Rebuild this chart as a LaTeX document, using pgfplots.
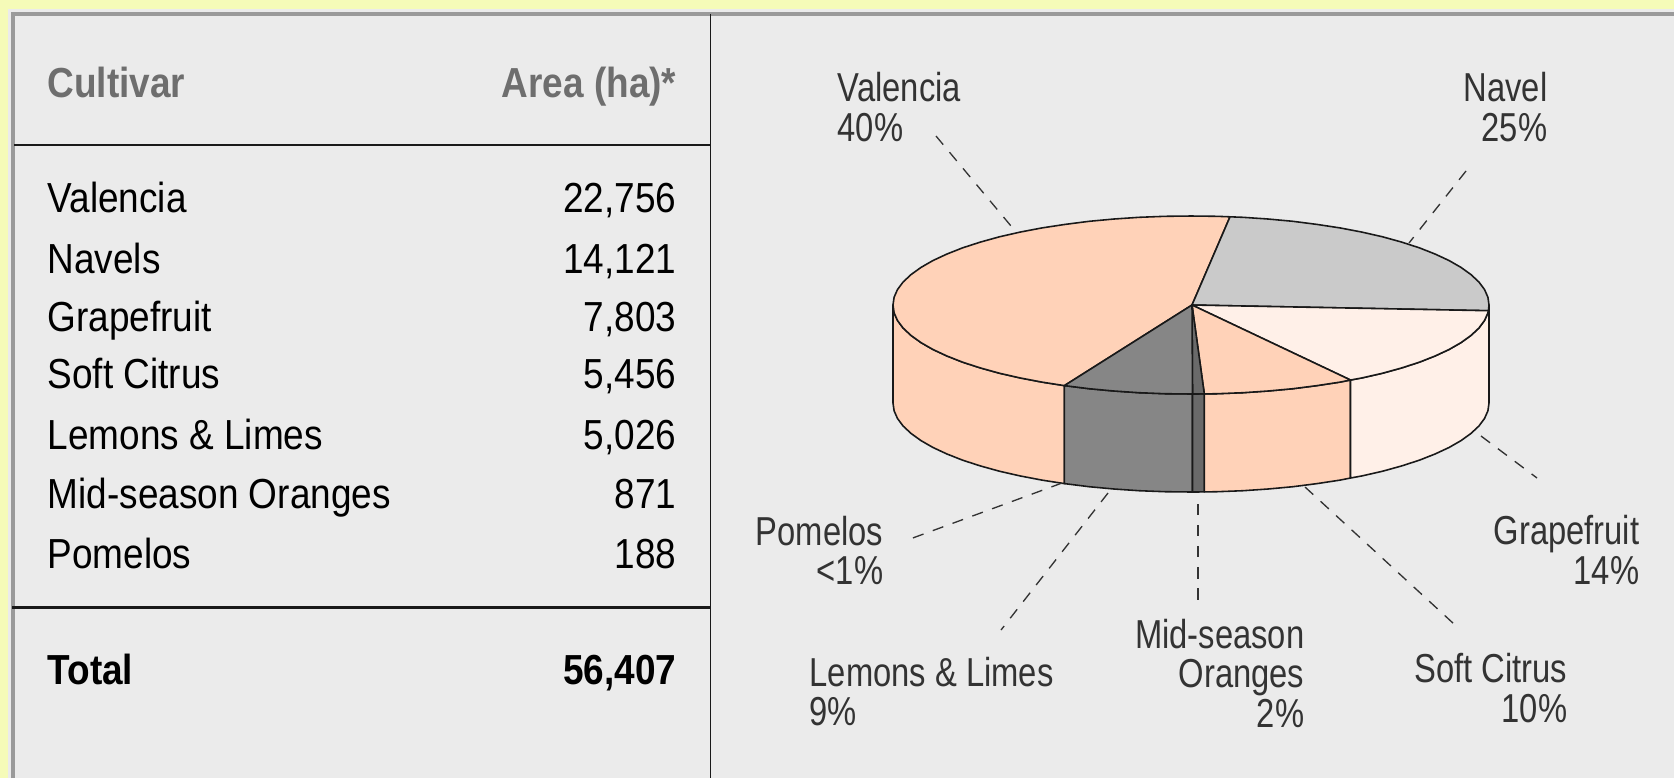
\documentclass[border=0pt]{standalone}
\usepackage{fontspec}
\setmainfont[FakeStretch=0.88]{Liberation Sans}
\newfontfamily\piefont[FakeStretch=0.81]{Liberation Sans}
\usepackage{pgfplots}
\pgfplotsset{compat=1.18}
\definecolor{bgyellow}{HTML}{F5FBB8}
\definecolor{panel}{HTML}{EBEBEB}
\definecolor{bordergray}{HTML}{9A9A9A}
\definecolor{headgray}{HTML}{6E6E6E}
\definecolor{peach}{HTML}{FFD2B8}
\definecolor{navelgray}{HTML}{CACACA}
\definecolor{cream}{HTML}{FFF0E8}
\definecolor{lemongray}{HTML}{868686}
\definecolor{midgray}{HTML}{6A6A6A}
\definecolor{pietext}{HTML}{333333}
\tikzset{
  tbl/.style={font=\fontsize{11.95pt}{14pt}\selectfont, inner sep=0pt, text=black},
  pie/.style={font=\fontsize{11.5pt}{14pt}\selectfont\piefont, inner sep=0pt, text=pietext},
  wedge/.style={draw=black!90, line width=0.45pt, line join=round},
  leader/.style={draw=black!80, line width=0.38pt, dash pattern=on 3.2pt off 2.8pt},
}
\begin{document}
\begin{tikzpicture}
\begin{axis}[
  width=16.74cm, height=7.78cm, scale only axis,
  xmin=0, xmax=1674, ymin=0, ymax=778, y dir=reverse,
  hide axis, clip=true,
]
% background and panel
\addplot[fill=bgyellow, draw=none] coordinates {(0,0) (1674,0) (1674,778) (0,778)} --cycle;
\addplot[fill=panel, draw=none] coordinates {(8,9) (1674,9) (1674,778) (8,778)} --cycle;
\addplot[draw=bordergray, line width=1.1pt] coordinates {(13,778) (13,14) (1674,14)};
% table rules
\addplot[draw=black!90, line width=0.6pt] coordinates {(14,145) (710,145)};
\addplot[draw=black!90, line width=0.6pt] coordinates {(12,607.5) (710,607.5)};
\addplot[draw=black!90, line width=0.55pt] coordinates {(710.5,14) (710.5,778)};
% table text
\node[tbl, anchor=base west, text=headgray] at (47,97) {\bfseries Cultivar};
\node[tbl, anchor=base east, text=headgray] at (677,97) {\bfseries Area (ha)*};
\node[tbl, anchor=base west] at (47,212.5) {Valencia};
\node[tbl, anchor=base east] at (677,212.5) {22,756};
\node[tbl, anchor=base west] at (47,273) {Navels};
\node[tbl, anchor=base east] at (677,273) {14,121};
\node[tbl, anchor=base west] at (47,331) {Grapefruit};
\node[tbl, anchor=base east] at (677,331) {7,803};
\node[tbl, anchor=base west] at (47,388.6) {Soft Citrus};
\node[tbl, anchor=base east] at (677,388.6) {5,456};
\node[tbl, anchor=base west] at (47,449.5) {Lemons \& Limes};
\node[tbl, anchor=base east] at (677,449.5) {5,026};
\node[tbl, anchor=base west] at (47,508) {Mid-season Oranges};
\node[tbl, anchor=base east] at (677,508) {871};
\node[tbl, anchor=base west] at (47,568) {Pomelos};
\node[tbl, anchor=base east] at (677,568) {188};
\node[tbl, anchor=base west] at (47,684) {\bfseries Total};
\node[tbl, anchor=base east] at (677,684) {\bfseries 56,407};
% pie sides
\addplot[wedge, fill=peach] coordinates {(893,305) (894.1,312.8) (897.5,320.5) (903.1,328) (911,335.4) (921,342.6) (933,349.5) (947,356) (962.7,362.2) (980.3,367.9) (999.4,373.2) (1020,377.9) (1042,382.1) (1064.4,385.6) (1064.4,483.6) (1042,480.1) (1020,475.9) (999.4,471.2) (980.3,465.9) (962.7,460.2) (947,454) (933,447.5) (921,440.6) (911,433.4) (903.1,426) (897.5,418.5) (894.1,410.8) (893,403)} --cycle;
\addplot[wedge, fill=lemongray] coordinates {(1064.4,385.6) (1089.1,388.7) (1114,391) (1139.1,392.7) (1165,393.7) (1192.5,394) (1192.5,492) (1165,491.7) (1139.1,490.7) (1114,489) (1089.1,486.7) (1064.4,483.6)} --cycle;
\addplot[wedge, fill=midgray] coordinates {(1192.5,394) (1204.3,393.9) (1204.3,491.9) (1192.5,492)} --cycle;
\addplot[wedge, fill=peach] coordinates {(1204.3,393.9) (1217,393.7) (1242.9,392.7) (1268,391) (1292.9,388.7) (1317,385.6) (1340,382.1) (1350.5,380) (1350.5,478) (1340,480.1) (1317,483.6) (1292.9,486.7) (1268,489) (1242.9,490.7) (1217,491.7) (1204.3,491.9)} --cycle;
\addplot[wedge, fill=cream] coordinates {(1350.5,380) (1362,377.9) (1382.6,373.2) (1401.7,367.9) (1419.3,362.2) (1435,356) (1449,349.5) (1461,342.6) (1471,335.4) (1478.9,328) (1484.5,320.5) (1487.9,312.8) (1489,305) (1489,403) (1487.9,410.8) (1484.5,418.5) (1478.9,426) (1471,433.4) (1461,440.6) (1449,447.5) (1435,454) (1419.3,460.2) (1401.7,465.9) (1382.6,471.2) (1362,475.9) (1350.5,478)} --cycle;
% pie top
\addplot[wedge, fill=peach] coordinates {(1192,305) (1230,216.8) (1217,216.3) (1191,216) (1165,216.3) (1139.1,217.3) (1114,219) (1089.1,221.3) (1065,224.4) (1042,227.9) (1020,232.1) (999.4,236.8) (980.3,242.1) (962.7,247.8) (947,254) (933,260.5) (921,267.4) (911,274.6) (903.1,282) (897.5,289.5) (894.1,297.2) (893,305) (894.1,312.8) (897.5,320.5) (903.1,328) (911,335.4) (921,342.6) (933,349.5) (947,356) (962.7,362.2) (980.3,367.9) (999.4,373.2) (1020,377.9) (1042,382.1) (1064.4,385.6)} --cycle;
\addplot[wedge, fill=navelgray] coordinates {(1192,305) (1230,216.8) (1242.9,217.3) (1268,219) (1292.9,221.3) (1317,224.4) (1340,227.9) (1362,232.1) (1382.6,236.8) (1401.7,242.1) (1419.3,247.8) (1435,254) (1449,260.5) (1461,267.4) (1471,274.6) (1478.9,282) (1484.5,289.5) (1487.9,297.2) (1489,305) (1488.4,310.7)} --cycle;
\addplot[wedge, fill=cream] coordinates {(1192,305) (1488.4,310.7) (1487.9,312.8) (1484.5,320.5) (1478.9,328) (1471,335.4) (1461,342.6) (1449,349.5) (1435,356) (1419.3,362.2) (1401.7,367.9) (1382.6,373.2) (1362,377.9) (1350.5,380)} --cycle;
\addplot[wedge, fill=peach] coordinates {(1192,305) (1350.5,380) (1340,382.1) (1317,385.6) (1292.9,388.7) (1268,391) (1242.9,392.7) (1217,393.7) (1204.3,393.9)} --cycle;
\addplot[wedge, fill=midgray] coordinates {(1192,305) (1204.3,393.9) (1192.5,394)} --cycle;
\addplot[wedge, fill=lemongray] coordinates {(1192,305) (1192.5,394) (1165,393.7) (1139.1,392.7) (1114,391) (1089.1,388.7) (1064.4,385.6)} --cycle;
% leader lines
\addplot[leader] coordinates {(936,136) (1011,226)};
\addplot[leader] coordinates {(1466,171) (1409,243)};
\addplot[leader] coordinates {(1481,436) (1537,478)};
\addplot[leader] coordinates {(1305,487) (1454,624)};
\addplot[leader] coordinates {(1198,504) (1198,604)};
\addplot[leader] coordinates {(1108,493) (1001,630)};
\addplot[leader] coordinates {(1062,483) (910,539)};
% pie labels
\node[pie, anchor=base west] at (837,101.5) {Valencia};
\node[pie, anchor=base west] at (837,141) {40\%};
\node[pie, anchor=base east] at (1548,101.5) {Navel};
\node[pie, anchor=base east] at (1548,141) {25\%};
\node[pie, anchor=base east] at (1640,544.5) {Grapefruit};
\node[pie, anchor=base east] at (1640,584) {14\%};
\node[pie, anchor=base east] at (1568,682) {Soft Citrus};
\node[pie, anchor=base east] at (1568,722) {10\%};
\node[pie, anchor=base east] at (1305,648) {Mid-season};
\node[pie, anchor=base east] at (1305,687.5) {Oranges};
\node[pie, anchor=base east] at (1305,727) {2\%};
\node[pie, anchor=base west] at (809,686) {Lemons \& Limes};
\node[pie, anchor=base west] at (809,725) {9\%};
\node[pie, anchor=base east] at (884,545) {Pomelos};
\node[pie, anchor=base east] at (884,584) {<1\%};
\end{axis}
\end{tikzpicture}
\end{document}
